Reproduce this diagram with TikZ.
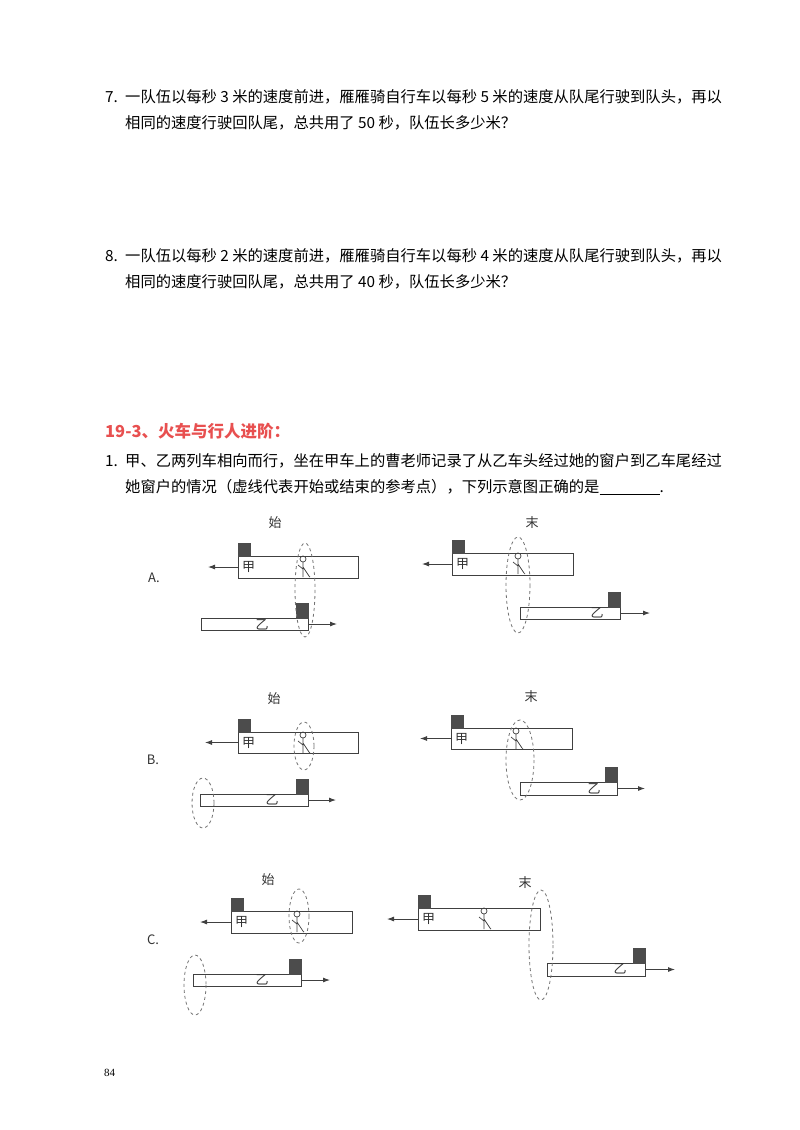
\documentclass[tikz,border=0pt]{standalone}
\usetikzlibrary{arrows.meta}
\usepackage{fontspec}
\setmainfont{Liberation Serif}
\newfontfamily\cjk{Noto Sans CJK SC}
\begin{document}
\begin{tikzpicture}[x=1pt,y=-1pt,
  txt/.style={anchor=west,inner sep=0pt,font=\cjk\fontsize{15.3}{18}\selectfont},
  lbl/.style={inner sep=0pt,font=\cjk\fontsize{13}{15}\selectfont,text=black!80},
  box/.style={draw=black!75,line width=0.9pt},
  blk/.style={fill=black!70,draw=black!70},
  arr/.style={draw=black!75,line width=0.9pt,-{Latex[length=7pt,width=5pt]}},
  ell/.style={draw=black!55,dashed,line width=0.8pt}]
\useasboundingbox (0,0) rectangle (800,1130);
\fill[white] (0,0) rectangle (800,1130);
\newcommand\trainL[5]{% x1 y1 x2 y2 arrowend
  \draw[box] (#1,#2) rectangle (#3,#4);
  \fill[blk] (#1,#2-13) rectangle (#1+12,#2);
  \draw[arr] (#1,{(#2+#4)/2}) -- (#5,{(#2+#4)/2});
  \node[lbl,anchor=west] at (#1+4,{(#2+#4)/2}) {甲};}
\newcommand\trainR[5]{%
  \draw[box] (#1,#2) rectangle (#3,#4);
  \fill[blk] (#3-12,#2-15) rectangle (#3,#2);
  \draw[arr] (#3,{(#2+#4)/2}) -- (#5,{(#2+#4)/2});}
\newcommand\man[2]{% x, ytop
  \draw[black!75,line width=0.7pt] (#1,#2+3) circle (3);
  \draw[black!75,line width=0.7pt] (#1,#2+6) -- (#1,#2+21) (#1-5,#2+9) -- (#1,#2+13) (#1,#2+11) -- (#1+6,#2+20) -- (#1+7,#2+21);}
\node[txt] (q7n) at (105,97) {7.};
\node[txt] (q7a) at (125,97) {一队伍以每秒 3 米的速度前进，雁雁骑自行车以每秒 5 米的速度从队尾行驶到队头，再以};
\node[txt] (q7b) at (125,123) {相同的速度行驶回队尾，总共用了 50 秒，队伍长多少米？};
\node[txt] (q8n) at (105,256) {8.};
\node[txt] (q8a) at (125,256) {一队伍以每秒 2 米的速度前进，雁雁骑自行车以每秒 4 米的速度从队尾行驶到队头，再以};
\node[txt] (q8b) at (125,282) {相同的速度行驶回队尾，总共用了 40 秒，队伍长多少米？};
\node[txt,font=\cjk\bfseries\fontsize{16.5}{19}\selectfont,text={rgb,255:red,232;green,80;blue,80}] (h) at (105,431) {19-3、火车与行人进阶：};
\node[txt] (q1n) at (105,461) {1.};
\node[txt] (q1a) at (125,461) {甲、乙两列车相向而行，坐在甲车上的曹老师记录了从乙车头经过她的窗户到乙车尾经过};
\node[txt] (q1b) at (125,487) {她窗户的情况（虚线代表开始或结束的参考点），下列示意图正确的是\underline{\hspace{60pt}}.};
% A
\node[lbl] (A) at (154,578) {A.};
\node[lbl] (As) at (275,523) {始};
\trainL{238}{556}{358}{578}{208}\man{303}{556}
\trainR{201}{618}{308}{630}{337}\node[lbl] at (262,625) {乙};
\draw[ell] (305,590) ellipse (10 and 47);
\node[lbl] (Ae) at (532,523) {末};
\trainL{452}{553}{573}{575}{422}\man{518}{553}
\trainR{520}{607}{620}{619}{650}\node[lbl] at (597,613) {乙};
\draw[ell] (518,585) ellipse (12 and 48);
% B
\node[lbl] (B) at (153,760) {B.};
\node[lbl] (Bs) at (274,699) {始};
\trainL{238}{732}{358}{753}{205}\man{303}{732}
\trainR{200}{794}{308}{806}{336}\node[lbl] at (272,800) {乙};
\draw[ell] (304,746) ellipse (10 and 24);
\draw[ell] (203,803) ellipse (11 and 25);
\node[lbl] (Be) at (531,697) {末};
\trainL{451}{728}{572}{749}{420}\man{516}{728}
\trainR{520}{782}{617}{795}{645}\node[lbl] at (594,789) {乙};
\draw[ell] (520,760) ellipse (14 and 40);
% C
\node[lbl] (C) at (153,940) {C.};
\node[lbl] (Cs) at (268,880) {始};
\trainL{231}{911}{352}{933}{200}\man{297}{911}
\trainR{193}{974}{301}{986}{330}\node[lbl] at (262,980) {乙};
\draw[ell] (299,916) ellipse (10 and 27);
\draw[ell] (195,985) ellipse (11 and 30);
\node[lbl] (Ce) at (525,883) {末};
\trainL{418}{908}{540}{930}{387}\man{484}{908}
\trainR{547}{963}{645}{976}{675}\node[lbl] at (620,969) {乙};
\draw[ell] (541,945) ellipse (12 and 55);
\node[txt,font=\fontsize{11}{13}\selectfont] (pg) at (104,1073) {84};
\end{tikzpicture}
\end{document}
